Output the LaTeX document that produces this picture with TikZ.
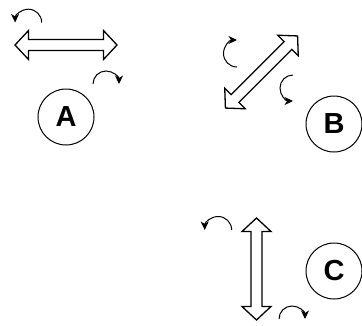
\documentclass[tikz,border=0pt]{standalone}
\usepackage{fontspec}
\setmainfont{Liberation Sans}
\usetikzlibrary{arrows.meta}
\begin{document}
\begin{tikzpicture}[x=1pt,y=-1pt,
  arrowline/.style={draw=black,line width=1.3pt,line join=miter,fill=white},
  turn/.style={draw=black,line width=1pt,-{Stealth[length=8.5pt,width=8pt,inset=2.5pt]}},
  letternode/.style={circle,draw=black,line width=1pt,minimum size=56pt,inner sep=0pt,
    font=\fontsize{29}{29}\selectfont\bfseries},
  dblarrow/.pic={
    \draw[arrowline] (-51,0) -- (-37.5,-14.5) -- (-37.5,-5.5) -- (37.5,-5.5) -- (37.5,-14.5)
      -- (51,0) -- (37.5,14.5) -- (37.5,5.5) -- (-37.5,5.5) -- (-37.5,14.5) -- cycle;
  }]
\useasboundingbox (0,0) rectangle (362,325);

% double arrows
\pic at (66,45) {dblarrow};
\pic[rotate=45] at (261.5,72) {dblarrow};
\pic[rotate=90] at (256.5,269) {dblarrow};

% circles
\node[letternode] (A) at (66,117) {A};
\node[letternode] (B) at (334,124) {B};
\node[letternode] (C) at (334,271) {C};

% turning arrows
\draw[turn] (41.7,22.5) arc[start angle=0,end angle=180,radius=13.3pt];
\draw[turn] (93,84) arc[start angle=180,end angle=0,radius=13pt];
\draw[turn] (237,67) arc[start angle=270,end angle=90,radius=13.5pt];
\draw[turn] (293,75) arc[start angle=90,end angle=270,radius=13pt];
\draw[turn] (231.7,230) arc[start angle=0,end angle=180,radius=13.5pt];
\draw[turn] (279,319) arc[start angle=180,end angle=0,radius=13pt];
\end{tikzpicture}
\end{document}
